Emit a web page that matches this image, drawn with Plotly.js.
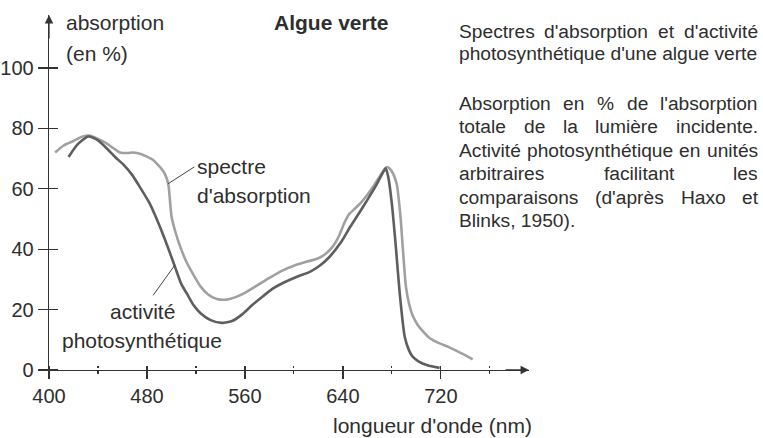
<!DOCTYPE html>
<html>
<head>
<meta charset="utf-8">
<script src="https://cdn.plot.ly/plotly-3.0.1.min.js"></script>
<style>html,body{margin:0;padding:0;background:#fff;}#chart{width:763px;height:438px;}</style>
</head>
<body>
<div id="chart"></div>
<script>
// ---- data ----
const absWl = [405,412,420,427,433,440,447,453,458,464,469,475,480,485,489,492,495,497.5,500,503,507,512,518,524,530,537,545,553,560,566,572,580,591,600,610,619,626,632,637,641,645,650,655,660,665,670,674,676,678,681,684,687,689,691.5,694,697,701,706,711,718,727,737,746];
const absVal = [72,74.3,75.8,77.2,77.6,76.5,75,73.3,72,71.8,72,71.5,70.6,69.5,67.9,66.5,64.6,61.3,51,46,41,36,31.5,27.5,25,23.5,23.3,24.2,25.5,27,28.5,30.5,33,34.5,35.8,36.8,38.5,41,44.5,48.5,51.5,53.5,55.5,58,60.8,64,66.5,67.2,66.8,65,61.5,51,40,27.5,22,18,15,12.5,10.5,9,7.5,5.5,3.5];

const actWl = [416,423,432,440,447,454,461,468,474,482,490,497,503,508,513,518,524,532,541,550,558,566,575,583,591,602,613,621,629,638,646,653,660,667,672,675,677,680,683,686.5,690.5,694,697,702,709,719];
const actVal = [70.5,74.5,77.3,76,73.4,70.5,67.9,64.5,60.7,55.3,48,40.7,34,28.5,25,21.5,18.7,16.5,15.6,16.3,18.5,21.5,24.5,27,28.8,30.8,32.5,34.5,37.4,42,47.4,51.8,56.3,61,64.8,66.8,64,55,42,25,11,6.5,4.4,2.8,1.6,0.7];

const xMajor = [400,480,560,640,720];
const xMinor = [440,520,600,680,760];
const yMajor = [0,20,40,60,80,100];

const chartTitle = "Algue verte";
const yTitle1 = "absorption";
const yTitle2 = "(en %)";
const xTitle = "longueur d'onde (nm)";
const absLabel = ["spectre", "d'absorption"];
const actLabel = ["activité", "photosynthétique"];
const para1 = ["Spectres d'absorption et d'activité", "photosynthétique d'une algue verte"];
const para2 = ["Absorption en % de l'absorption", "totale de la lumière incidente.", "Activité photosynthétique en unités", "arbitraires facilitant les", "comparaisons (d'après Haxo et", "Blinks, 1950)."];

// ---- layout geometry ----
const L = 49, T = 15, W = 480, H = 355;
const FONT = "Liberation Sans, Arial, sans-serif";
const TXT = "#2e2e2e";
function P(px, py){ return {x:(px-L)/W, y:(T+H-py)/H, xref:'paper', yref:'paper'}; }
function label(text, px, py, xanchor, size, extra){
  return Object.assign(P(px,py), {text:text, showarrow:false, xanchor:xanchor, yanchor:'middle', borderpad:0,
    font:Object.assign({family:FONT, size:size, color:TXT}, extra||{})});
}

const ann = [];
ann.push(label(chartTitle, 331, 23, 'center', 21, {weight:'bold'}));
ann.push(label(yTitle1, 65, 23, 'left', 21));
ann.push(label(yTitle2, 65, 54, 'left', 21));
ann.push(label(xTitle, 432, 425, 'center', 21));
ann.push(label(absLabel[0], 196, 166, 'left', 21));
ann.push(label(absLabel[1], 196, 195, 'left', 21));
ann.push(label(actLabel[0], 142.5, 311, 'center', 21));
ann.push(label(actLabel[1], 142, 340, 'center', 21));

// leader lines
ann.push({x:497.1, y:61.6, xref:'x', yref:'y', text:'', showarrow:true, arrowhead:0, ax:28, ay:-18, arrowwidth:1, arrowcolor:'#444'});
ann.push({x:502.9, y:34.8, xref:'x', yref:'y', text:'', showarrow:true, arrowhead:0, ax:-23, ay:32, arrowwidth:1, arrowcolor:'#444'});
// axis arrows
ann.push({x:792, y:0, xref:'x', yref:'y', text:'', showarrow:true, arrowhead:2, arrowsize:1.3, arrowwidth:1.3, arrowcolor:'#333', ax:-25, ay:0});
ann.push({x:400, y:117.5, xref:'x', yref:'y', text:'', showarrow:true, arrowhead:2, arrowsize:1.3, arrowwidth:1.3, arrowcolor:'#333', ax:0, ay:25});

// justified side text
const RS = 19.2, X0 = 458, X1 = 757;
const cv = document.createElement('canvas').getContext('2d');
cv.font = RS + "px 'Liberation Sans'";
function addLine(text, py, justify){
  if(!justify){ ann.push(label(text, X0, py, 'left', RS)); return; }
  const words = text.split(' ');
  const ws = words.map(w => cv.measureText(w).width);
  const tot = ws.reduce((a,b)=>a+b,0);
  const gap = (X1 - X0 - tot)/(words.length-1);
  let x = X0;
  words.forEach((w,i)=>{ ann.push(label(w, x, py, 'left', RS)); x += ws[i] + gap; });
}
addLine(para1[0], 31, true);
addLine(para1[1], 54, false);
const p2y = [103, 126.5, 150, 173.5, 197, 220];
para2.forEach((t,i)=> addLine(t, p2y[i], i < para2.length-1));

const traces = [
  {x:absWl, y:absVal, type:'scatter', mode:'lines', line:{color:'#a0a0a0', width:2.6, shape:'spline', smoothing:0.6}, hoverinfo:'skip'},
  {x:actWl, y:actVal, type:'scatter', mode:'lines', line:{color:'#5e5e5e', width:2.6, shape:'spline', smoothing:0.6}, hoverinfo:'skip'},
  {x:[400], y:[0], xaxis:'x2', yaxis:'y2', mode:'markers', marker:{opacity:0}, hoverinfo:'skip'}
];

const tickFont = {family:FONT, size:20, color:TXT};
const layout = {
  width:763, height:438,
  margin:{l:L, t:T, r:763-L-W, b:438-T-H, pad:0},
  paper_bgcolor:'#fff', plot_bgcolor:'#fff',
  showlegend:false,
  xaxis:{range:[400,792], tickmode:'array', tickvals:xMajor, ticks:'outside', ticklen:8, tickwidth:1.3, tickcolor:'#333',
         showline:true, linecolor:'#333', linewidth:1.3, showgrid:false, zeroline:false, tickfont:tickFont,
         minor:{tickmode:'array', tickvals:xMinor, ticks:'outside', ticklen:3, tickwidth:1.2, tickcolor:'#333'}},
  yaxis:{range:[0,117.5], tickmode:'array', tickvals:yMajor, ticks:'outside', ticklen:10, tickwidth:1.3, tickcolor:'#333',
         showline:true, linecolor:'#333', linewidth:1.3, showgrid:false, zeroline:false, tickfont:tickFont},
  // companion axes, shifted into the plot, so that their outside ticks continue the ticks across the axis lines
  xaxis2:{overlaying:'x', anchor:'free', position:5/H, range:[400,792], tickmode:'array', tickvals:xMajor, ticks:'outside', ticklen:5, tickwidth:1.3, tickcolor:'#333',
          showticklabels:false, showline:false, showgrid:false, zeroline:false, side:'bottom',
          minor:{tickmode:'array', tickvals:xMinor, ticks:'outside', ticklen:2, tickwidth:1.2, tickcolor:'#333'}},
  yaxis2:{overlaying:'y', anchor:'free', position:9/W, range:[0,117.5], tickmode:'array', tickvals:yMajor, ticks:'outside', ticklen:9, tickwidth:1.3, tickcolor:'#333',
          showticklabels:false, showline:false, showgrid:false, zeroline:false, side:'left'},
  annotations:ann
};
Plotly.newPlot('chart', traces, layout, {staticPlot:true, displayModeBar:false});
</script>
</body>
</html>
